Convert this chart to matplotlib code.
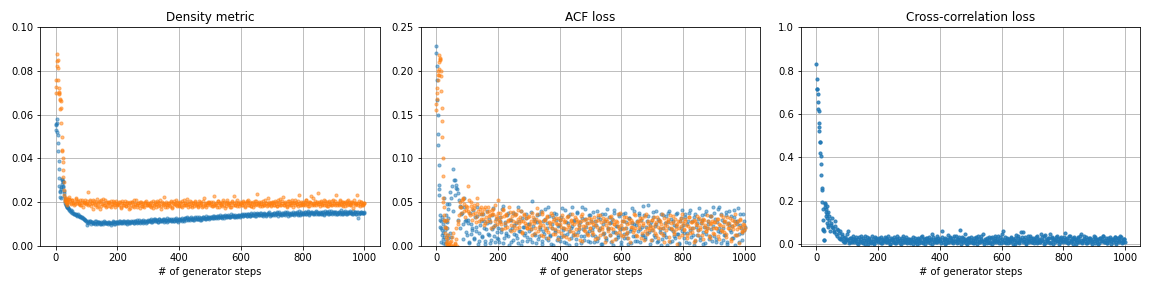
import numpy as np
import matplotlib
matplotlib.use("Agg")
from matplotlib import pyplot as plt

# generator steps at which the metrics were logged (every step early on, then every 4th)
steps = list(range(0, 40)) + list(range(40, 1001, 4))
# in-between logged steps (42, 46, ..., 998)
steps_fill = list(range(42, 1000, 4))

# density metric, units of 1e-4
density_real = """
530 552 558 580 562 520 505 470 435 390 350 310 275 250 222 245 270 220 262 282
300 305 296 290 275 268 252 240 228 215 205 198 192 188 185 183 180 178 176 174
172 168 162 158 150 148 144 140 146 139 135 130 128 124 118
95 112 108 115 110 106 104 112 100 108 111 105 102 109 113 104 107 101 110 106 103 112 108 100 109
110 106 113 108 104 115 111 107 112 103 109 116 110 105 113 108 117 111 106 114 109 119 112 107 115
118 112 121 108 116 123 114 119 111 125 117 113 122 109 120 126 115 118 124 112 121 116 127 113 110
122 117 128 120 115 126 131 119 124 129 121 127 118 132 125 122 130 126 120 133 128 124 135 127 131
129 134 126 138 131 127 136 130 140 133 128 137 142 132 135 139 130 144 136 133 141 138 134 143 137
140 145 136 142 148 139 144 137 150 143 141 147 138 152 145 140 149 143 146 151 139 148 144 153 142
147 143 151 145 149 138 154 146 142 150 147 155 144 139 152 148 145 156 141 150 153 146 158 143 149
151 146 155 148 160 144 152 157 149 147 154 159 145 151 156 148 153 142 158 150 155 147 152 160 149
153 148 157 145 155 150 162 147 152 158 144 154 149 156 151 146 159 153 148 155 127 150 157 152 149
152
"""
density_real_fill = """
165 160 156 152 147 145 141 138 135 133 131 127 122 120 116
108 104 113 101 110 106 99 112 104 108 102 110 105 100 111 107 103 109 104 98 106 111 102 108 105
107 112 104 109 115 106 110 102 113 108 104 111 116 107 112 105 110 118 108 113 106 111 115 109 112
114 120 110 117 122 113 118 109 121 116 112 119 124 114 117 111 122 118 115 120 113 123 117 119 121
120 125 116 123 128 119 126 121 117 130 124 120 127 122 133 125 119 128 123 131 126 121 129 132 125
131 127 135 129 133 138 128 134 131 136 139 129 135 132 141 134 130 137 142 135 131 139 136 140 134
142 138 146 140 135 147 143 139 145 141 149 137 144 146 140 150 143 138 147 145 141 149 144 139 146
145 150 141 147 153 144 148 140 152 146 143 149 155 145 141 151 147 144 150 146 152 142 148 154 145
148 153 145 150 156 143 149 154 147 151 145 157 150 146 152 148 155 144 150 153 147 158 151 146 154
150 155 146 152 157 148 153 145 156 151 147 154 149 158 152 145 150 156 148 153 146 151 155 149 153
"""
density_gen = """
700 725 760 820 845 878 850 815 760 720 705 700 695 672 668 625 660 632 560 500
438 432 400 385 345 315 290 255 232 220 212 205 218 198 205 210 195 188 203 215
200 215 192 208 196 185 220 198 204 192 188 210 176 202 196
205 248 190 212 198 170 206 193 215 184 200 167 209 195 188 211 178 202 196 183 207 190 199 176 204
193 186 201 172 197 189 205 181 194 168 199 187 203 179 192 208 185 196 174 200 190 183 198 206 188
195 181 202 187 174 199 191 206 184 196 170 201 189 223 193 180 198 186 205 177 194 190 208 183 197
189 203 180 196 210 185 199 176 192 205 187 194 182 200 191 178 206 188 196 183 221 190 179 202 194
186 199 181 230 193 188 204 177 195 190 183 201 175 197 208 186 194 180 199 227 189 203 184 196 191
198 185 202 180 194 207 188 199 183 196 176 204 190 236 185 200 193 181 206 189 197 184 220 191 186
195 203 187 199 182 210 192 186 204 224 189 198 181 205 193 187 200 178 196 208 190 184 233 197 188
203 192 185 209 196 181 200 226 190 187 205 194 244 199 184 202 191 188 207 195 183 200 192 186 204
197 189 233 194 185 206 191 199 182 203 196 188 208 193 186 200 175 197 190 231 195 184 201 189 192
198
"""
density_gen_fill = """
225 208 196 212 201 190 215 205 195 211 186 203 198 209 192
198 186 207 181 194 210 189 200 176 197 205 184 193 213 187 199 181 195 202 178 191 206 185 196 188
190 199 177 205 186 194 181 202 188 196 175 200 184 211 191 179 197 187 203 182 194 178 199 186 193
185 197 180 204 189 193 176 200 187 209 182 195 191 178 202 188 196 183 199 175 205 190 186 201 184
195 181 204 188 198 186 214 191 183 200 179 196 205 188 193 184 201 192 177 207 189 198 185 194 203
192 184 203 189 197 179 206 194 186 199 210 188 183 201 192 196 178 204 189 195 186 209 191 183 200
189 204 194 184 199 212 187 196 181 203 192 186 207 195 190 182 202 193 185 211 197 188 201 194 183
200 189 207 193 184 199 215 188 196 186 203 192 180 206 197 189 211 194 185 201 192 205 187 199 193
187 199 211 190 184 203 194 188 218 197 185 201 193 190 207 186 196 212 189 199 184 205 193 188 210
191 204 186 198 193 212 188 201 195 184 207 192 199 186 203 195 211 189 197 186 206 193 199 188 195
"""

# ACF loss, units of 1e-3
acf_real = """
228 220 205 190 167 150 128 115 93 70 65 58 30 22 35 20 5 28 12 18
33 8 25 3 15 30 10 55 22 2 18 28 35 6 13 48 27 20 42 9
32 15 55 68 88 75 70 65 60 46 45 38 25 55 30
12 30 5 25 18 41 8 22 34 2 15 28 10 37 20 6 26 14 31 3 19 43 11 24 9
21 4 33 16 46 9 27 13 38 1 18 30 7 24 36 12 3 28 17 40 6 22 15 32 10
25 8 19 51 14 29 3 35 11 22 40 6 17 31 9 26 44 13 2 20 33 16 37 7 23
30 10 43 18 5 27 14 34 1 21 45 12 28 8 39 16 24 3 32 19 11 42 26 6 17
35 13 22 4 29 40 9 18 31 2 25 15 37 7 20 33 12 27 1 41 16 23 10 36 19
5 28 14 38 21 9 32 17 3 26 40 11 24 6 35 19 30 13 46 8 22 15 34 2 27
18 39 10 25 4 31 16 37 8 21 13 34 1 27 40 19 6 29 11 23 38 14 3 32 17
24 9 36 15 28 3 41 20 12 33 6 26 18 43 10 30 2 22 37 14 25 8 34 19 45
11 31 4 42 21 16 36 7 27 13 39 2 24 18 34 9 41 29 12 25 5 37 20 15 28
22
"""
acf_real_fill = """
48 62 10 40 75 58 66 30 52 20 36 8 44 28 16
26 3 38 14 21 9 33 17 45 6 24 36 11 29 2 19 40 13 27 7 35 22 4 31 16
8 28 19 42 3 24 15 35 11 30 5 20 38 14 26 9 44 17 1 32 22 12 37 6 25
17 39 4 23 31 12 27 8 36 19 2 29 14 42 21 7 34 11 25 1 38 18 30 10 24
6 33 20 12 41 3 26 17 36 9 23 30 14 2 38 19 27 11 44 7 31 22 15 35 4
28 18 39 11 24 6 33 21 2 36 14 29 9 42 19 26 4 31 16 38 8 23 13 34 1
20 37 9 27 15 2 32 19 43 11 25 6 29 17 38 4 22 13 35 10 28 47 16 24 7
33 12 23 40 6 28 19 1 35 15 26 10 38 21 4 31 17 24 9 36 14 2 29 20 41
15 33 5 25 38 18 10 29 1 37 22 13 31 7 26 35 16 3 40 20 28 11 34 6 23
38 8 27 17 44 3 30 21 12 35 5 26 40 16 23 9 33 1 29 43 14 24 7 36 18
"""
acf_gen = """
155 162 168 175 180 190 195 200 202 195 210 218 213 215 212 200 194 177 157 143
125 101 80 55 50 45 35 30 22 28 15 10 3 20 8 1 30 5 12 2
0 4 1 10 0 2 8 0 28 45 38 52 54 48 41
45 68 38 50 42 36 47 33 55 40 29 44 37 31 42 26 39 45 34 28 41 36 23 47 32
53 30 38 25 42 34 20 37 28 44 31 24 39 18 35 27 41 22 33 29 16 37 26 32 21
34 25 19 38 28 15 31 43 22 27 12 36 24 30 18 33 9 26 38 21 29 14 32 25 17
30 22 35 11 27 19 33 24 8 29 36 16 25 31 13 28 21 34 6 23 30 17 26 12 32
20 27 14 33 24 9 30 18 35 22 15 28 5 31 21 26 12 34 19 25 8 29 23 16 38
24 11 28 20 33 16 26 4 30 22 18 35 13 27 21 29 9 32 24 17 36 14 26 20 7
30 18 25 12 33 22 28 15 36 20 5 27 23 31 10 26 19 34 16 24 2 29 21 32 13
26 18 31 9 23 33 15 27 20 4 29 24 12 32 19 26 8 30 22 17 28 11 25 34 20
14 27 21 31 8 24 18 33 16 28 10 25 21 32 6 23 29 13 26 19 3 30 22 17 24
20
"""
acf_gen_fill = """
2 0 6 15 0 3 20 25 35 50 44 55 40 33 46
40 52 35 46 30 43 38 27 48 36 42 31 39 24 44 33 28 40 35 21 37 42 29 34 25
38 27 33 19 41 26 35 22 30 39 17 34 28 23 36 20 31 26 40 15 29 35 24 21 33
22 29 13 33 26 20 36 17 28 24 39 11 30 21 34 16 27 23 35 14 31 19 26 8 32
25 15 31 20 28 10 34 22 17 30 26 12 33 19 27 24 7 29 36 18 23 31 14 26 21
31 16 25 8 29 22 35 13 27 19 32 10 24 28 17 33 21 6 30 25 15 27 36 20 12
28 19 33 14 25 9 31 22 27 16 37 20 11 29 24 32 15 26 7 34 21 28 18 23 30
22 33 15 27 9 30 20 25 13 32 24 18 29 6 35 21 27 14 31 19 25 10 28 23 36
19 29 24 12 33 21 27 16 30 7 25 34 18 22 28 13 31 24 17 35 20 9 26 29 15
27 20 31 11 25 35 17 23 29 14 33 21 26 8 30 19 24 36 12 28 22 31 16 25 18
"""

# cross-correlation loss, units of 1e-3
xcorr = """
830 760 715 715 690 655 625 615 560 540 520 470 470 420 405 370 320 260 250 195
160 110 70 65 20 60 20 190 185 170 160 150 130 120 175 140 100 90 150 80
130 60 100 80 60 105 45 70 30 60 25 40 10 35 20
45 60 12 30 8 25 18 35 5 22 15 40 10 28 3 20 33 12 25 7 38 15 2 30 18
10 25 35 5 20 14 30 8 40 18 2 26 12 32 6 22 15 28 4 19 36 11 24 9 17
26 8 20 3 15 30 12 24 6 18 35 10 22 1 28 14 32 5 20 45 11 26 8 38 16
23 7 60 18 30 4 25 12 35 20 9 28 15 40 6 22 65 14 31 8 24 18 3 27 12
34 10 21 5 28 16 38 8 25 13 45 2 19 30 11 24 6 33 17 9 27 15 36 4 21
48 60 18 10 29 6 23 14 35 2 20 27 12 40 8 25 55 55 16 31 5 22 11 36 19
9 26 14 33 4 21 12 45 18 38 7 24 15 30 48 10 27 3 20 35 13 25 8 32 17
22 50 11 29 6 40 16 24 3 33 19 8 27 14 45 10 21 36 5 25 12 30 18 2 26
15 32 9 23 4 28 17 36 11 20 6 30 14 25 1 22 18 34 8 27 13 40 19 10 24
12
"""
xcorr_fill = """
110 90 120 75 55 85 40 65 50 25 45 15 30 8 22
20 5 30 14 40 9 24 16 2 33 11 26 7 20 36 13 3 28 17 10 24 6 31 15 21
27 12 4 22 16 34 8 25 13 1 30 19 9 24 5 38 14 21 2 28 11 18 32 7 23
6 24 14 33 9 20 2 28 16 11 36 5 23 13 30 8 19 26 3 35 15 22 10 29 18
14 32 8 25 3 20 42 11 29 17 5 38 13 23 9 33 19 2 27 15 48 7 21 30 11
19 6 29 14 35 3 24 11 40 17 8 26 21 5 33 12 28 2 18 38 10 24 15 31 7
23 12 35 5 26 18 9 30 15 22 3 44 13 28 7 20 34 11 25 2 18 40 14 29 9
28 5 19 36 12 25 8 31 16 2 42 20 11 27 6 33 18 24 9 38 14 3 29 21 10
33 13 26 4 20 38 9 28 16 24 2 31 12 40 18 7 25 14 35 5 22 29 10 17 36
7 25 18 3 30 13 22 38 10 27 4 19 33 15 24 8 31 2 21 28 12 35 6 17 26
"""


def parse(s, fill, unit):
    main = np.array(s.split(), dtype=float) * unit
    extra = np.array(fill.split(), dtype=float) * unit
    assert len(main) == len(steps), len(main)
    assert len(extra) == len(steps_fill), len(extra)
    return np.concatenate([main, extra])


x = np.array(steps + steps_fill)
d_real = parse(density_real, density_real_fill, 1e-4)
d_gen = parse(density_gen, density_gen_fill, 1e-4)
a_real = parse(acf_real, acf_real_fill, 1e-3)
a_gen = parse(acf_gen, acf_gen_fill, 1e-3)
xc = parse(xcorr, xcorr_fill, 1e-3)

fig, axes = plt.subplots(1, 3, figsize=(16, 4), dpi=72)
plt.subplots_adjust(left=0.035, right=0.99, bottom=0.146, top=0.906, wspace=0.12)

ax = axes[0]
ax.scatter(x, d_real, s=10, alpha=0.5, color='C0')
ax.scatter(x, d_gen, s=10, alpha=0.5, color='C1')
ax.set_ylim(0, 0.1)
ax.set_title('Density metric')

ax = axes[1]
ax.scatter(x, a_real, s=10, alpha=0.5, color='C0')
ax.scatter(x, a_gen, s=10, alpha=0.5, color='C1')
ax.set_ylim(0, 0.25)
ax.set_title('ACF loss')

ax = axes[2]
ax.scatter(x, xc, s=10, alpha=0.8, color='C0')
ax.set_ylim(-0.008, 1.0)
ax.set_title('Cross-correlation loss')

for ax in axes:
    ax.set_xlim(-50, 1050)
    ax.set_xticks([0, 200, 400, 600, 800, 1000])
    ax.grid(True)
    ax.set_axisbelow(True)
    ax.set_xlabel('# of generator steps')

plt.savefig('out.png', dpi=72)
